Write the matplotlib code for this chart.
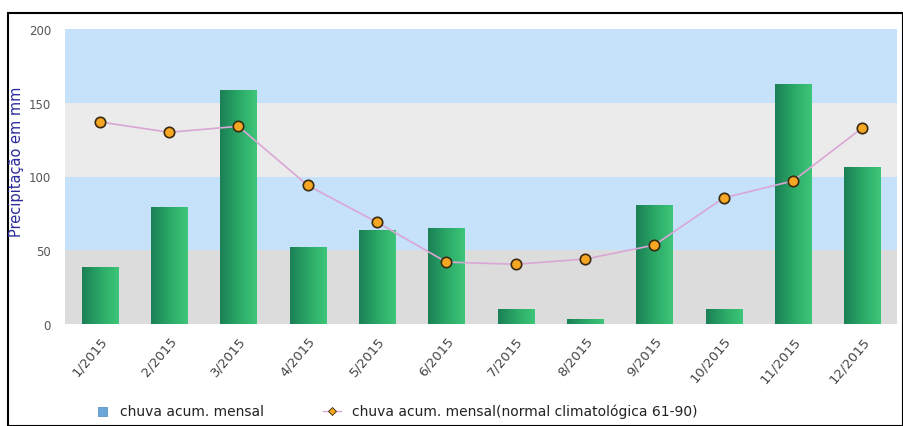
import numpy as np
import matplotlib.pyplot as plt
from matplotlib.patches import Rectangle
from matplotlib.lines import Line2D
from matplotlib.colors import LinearSegmentedColormap

# monthly data
meses = ['1/2015', '2/2015', '3/2015', '4/2015', '5/2015', '6/2015',
         '7/2015', '8/2015', '9/2015', '10/2015', '11/2015', '12/2015']
chuva = [38.5, 79, 158.5, 52, 63.5, 65, 10.5, 3.5, 80.5, 10.5, 162.5, 106.5]
normal = [137, 130, 134, 94, 69, 42, 40.5, 44, 53.5, 85.5, 97, 133]
yticks = [0, 50, 100, 150, 200]

fig = plt.figure(figsize=(9.04, 4.27), dpi=100)
ax = fig.add_axes([65/904, 1-325/427, 832/904, 295/427])

# horizontal bands
band_cols = ['#dcdcdc', '#c6e1fa', '#ebebeb', '#c6e1fa']
for i, c in enumerate(band_cols):
    ax.axhspan(yticks[i], yticks[i+1], color=c, zorder=0, lw=0)

x = np.arange(len(meses))
bars = ax.bar(x, chuva, width=0.52, color='#2ea567', zorder=2, lw=0)

# left-to-right green gradient on each bar
grad = np.linspace(0, 1, 64).reshape(1, -1)
cmap = LinearSegmentedColormap.from_list('g', ['#1b8056', '#2aa866', '#3dc679'])
for b in bars:
    x0, w, h = b.get_x(), b.get_width(), b.get_height()
    im = ax.imshow(grad, cmap=cmap, aspect='auto', extent=[x0, x0 + w, 0, h],
                   zorder=3, interpolation='bilinear')
    im.set_clip_path(b)

ax.plot(x, normal, color='#d9a6d6', lw=1.2, zorder=4,
        marker='o', ms=7.5, mfc='#f5a623', mec='#3a2a10', mew=1.2)

ax.set_xlim(-0.5, len(meses) - 0.5)
ax.set_ylim(0, 200)
ax.set_yticks(yticks)
ax.set_yticklabels([str(v) for v in yticks], color='#555555', fontsize=8.5)
ax.set_xticks(x)
ax.set_xticklabels(meses, rotation=50, ha='right', rotation_mode='anchor',
                   color='#444444', fontsize=9.5)
ax.tick_params(length=0, pad=10)
ax.tick_params(axis='x', pad=7)
for s in ax.spines.values():
    s.set_visible(False)
fig.text(17/904, 1-162/427, 'Precipitação em mm', color='#2b2b9a', fontsize=10.5,
         rotation=90, ha='center', va='center')

# legend at bottom
fig.patches.append(Rectangle((98/904, 1-417/427), 9/904, 9/427, transform=fig.transFigure,
                             facecolor='#6aa6d8', edgecolor='#4a86b8', lw=0.5))
fig.text(120/904, 1-412/427, 'chuva acum. mensal', fontsize=10, color='#222222', va='center')
fig.lines.append(Line2D([323/904, 341/904], [1-412/427, 1-412/427], transform=fig.transFigure,
                        color='#d9a6d6', lw=1))
fig.lines.append(Line2D([332/904], [1-412/427], transform=fig.transFigure,
                        marker='D', ms=4, mfc='#f5a623', mec='#3a2a10', mew=0.6, lw=0))
fig.text(352/904, 1-412/427, 'chuva acum. mensal(normal climatológica 61-90)',
         fontsize=10, color='#222222', va='center')

# outer frame
fig.patches.append(Rectangle((8/904, 0.5/427), 895/904, 1-13.5/427 - 0.5/427,
                             transform=fig.transFigure, fill=False, edgecolor='black', lw=1.5))

fig.savefig('out.png', dpi=100)
